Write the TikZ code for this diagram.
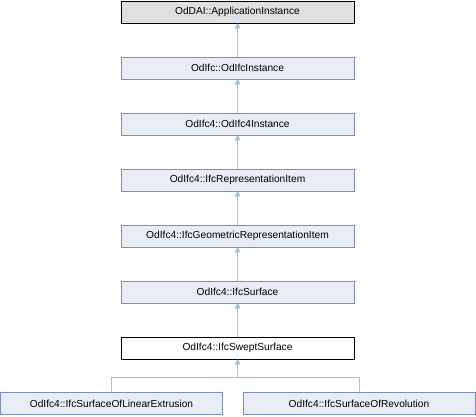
\documentclass[tikz,border=0pt]{standalone}
\usepackage{fontspec}
\setmainfont{Liberation Sans}
\usetikzlibrary{arrows.meta}
\definecolor{edgeblue}{RGB}{154,196,228}
\definecolor{boxfill}{RGB}{232,236,245}
\definecolor{boxdraw}{RGB}{122,142,196}
\definecolor{topfill}{RGB}{224,224,224}
\begin{document}
\begin{tikzpicture}[x=1bp,y=-1bp,
  cls/.style={draw=boxdraw,fill=boxfill,line width=0.8bp,minimum height=22bp,inner sep=0pt,font=\fontsize{10.2bp}{12bp}\selectfont},
  topcls/.style={cls,draw=black,fill=topfill},
  curcls/.style={cls,draw=black,fill=white},
  inh/.style={draw=edgeblue,line width=0.8bp,-{Triangle[width=6bp,length=5bp,fill=edgeblue]}}]
\useasboundingbox (0,0) rectangle (476,416);
\node[topcls,minimum width=233bp] (a) at (237.5,12) {OdDAI::ApplicationInstance};
\node[cls,minimum width=233bp] (b) at (237.5,68) {OdIfc::OdIfcInstance};
\node[cls,minimum width=233bp] (c) at (237.5,124) {OdIfc4::OdIfc4Instance};
\node[cls,minimum width=233bp] (d) at (237.5,180) {OdIfc4::IfcRepresentationItem};
\node[cls,minimum width=233bp] (e) at (237.5,236) {OdIfc4::IfcGeometricRepresentationItem};
\node[cls,minimum width=233bp] (f) at (237.5,292) {OdIfc4::IfcSurface};
\node[curcls,minimum width=233bp] (g) at (237.5,348) {OdIfc4::IfcSweptSurface};
\node[cls,minimum width=222bp] (h) at (111.5,403.5) {OdIfc4::IfcSurfaceOfLinearExtrusion};
\node[cls,minimum width=232bp] (i) at (359,403.5) {OdIfc4::IfcSurfaceOfRevolution};
\coordinate (j) at (237.5,377);
\draw[inh] (b) -- (a);
\draw[inh] (c) -- (b);
\draw[inh] (d) -- (c);
\draw[inh] (e) -- (d);
\draw[inh] (f) -- (e);
\draw[inh] (g) -- (f);
\draw[inh] (j) -- (g);
\draw[draw=edgeblue,line width=0.8bp] (h.north) |- (j) -| (i.north);
\end{tikzpicture}
\end{document}
